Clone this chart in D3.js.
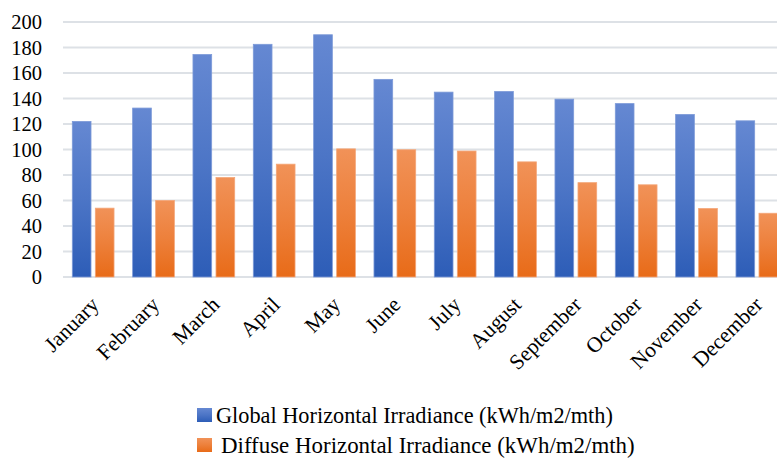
<!DOCTYPE html>
<html>
<head>
<meta charset="utf-8">
<script src="https://cdn.jsdelivr.net/npm/d3@7"></script>
<style>
html,body{margin:0;padding:0;background:#fff;}
svg{display:block;}
</style>
</head>
<body>
<svg id="chart" width="777" height="464"></svg>
<script>
const months = ["January","February","March","April","May","June","July","August","September","October","November","December"];
const seriesNames = ["Global Horizontal Irradiance (kWh/m2/mth)", "Diffuse Horizontal Irradiance (kWh/m2/mth)"];
const globalValues = [122, 132.5, 174.5, 182.5, 190, 155, 145, 145.5, 139.5, 136, 127.5, 122.5];
const diffuseValues = [54, 60, 78, 88.5, 100.5, 99.8, 98.8, 90.3, 74, 72.3, 53.7, 50];
const yTicks = [0,20,40,60,80,100,120,140,160,180,200];

const fontFam = "'Liberation Serif','DejaVu Serif',serif";
const svg = d3.select("#chart");
const plotLeft = 63, plotRight = 787, plotTop = 22, plotBottom = 277;

const x0 = d3.scaleBand().domain(months).range([plotLeft, plotRight]).paddingInner(0).paddingOuter(0);
const x1 = d3.scaleBand().domain([0,1]).range([0, x0.bandwidth()]).paddingInner(0.187).paddingOuter(0.404);
const y = d3.scaleLinear().domain([0,200]).range([plotBottom, plotTop]);

const defs = svg.append("defs");
const grads = [
  {id:"gBlue", top:"#6588d2", bottom:"#2d5db7"},
  {id:"gOrange", top:"#f19258", bottom:"#e86b18"}
];
grads.forEach(g => {
  const lg = defs.append("linearGradient").attr("id", g.id).attr("x1",0).attr("y1",0).attr("x2",0).attr("y2",1);
  lg.append("stop").attr("offset","0%").attr("stop-color", g.top);
  lg.append("stop").attr("offset","50%").attr("stop-color", d3.interpolateRgb(g.top,g.bottom)(0.45));
  lg.append("stop").attr("offset","100%").attr("stop-color", g.bottom);
});
const strokes = ["#7d9ad8", "#f4a678"];

// gridlines
svg.append("g").selectAll("line").data(yTicks).join("line")
  .attr("x1", plotLeft).attr("x2", plotRight)
  .attr("y1", d => y(d)).attr("y2", d => y(d))
  .attr("stroke", "#dde1e6").attr("stroke-width", 2);

// y axis labels
const yAxis = d3.axisLeft(y).tickValues(yTicks).tickSize(0).tickPadding(0);
const yg = svg.append("g").attr("transform", `translate(42,0)`).call(yAxis);
yg.select(".domain").remove();
yg.selectAll("text").attr("font-family", fontFam).attr("font-size", 20.5).attr("fill", "#000").attr("dy", "0.34em");

// bars
const data = months.map((m,i) => ({m, vals:[globalValues[i], diffuseValues[i]]}));
const groups = svg.append("g").selectAll("g").data(data).join("g")
  .attr("transform", d => `translate(${x0(d.m)},0)`);
groups.selectAll("rect").data(d => d.vals.map((v,k)=>({v,k}))).join("rect")
  .attr("x", d => x1(d.k))
  .attr("width", x1.bandwidth())
  .attr("y", d => y(d.v))
  .attr("height", d => y(0) - y(d.v))
  .attr("fill", d => `url(#${grads[d.k].id})`)
  .attr("stroke", d => strokes[d.k]).attr("stroke-width", 0.8);

// x axis labels
const xAxis = d3.axisBottom(x0).tickSize(0).tickPadding(0);
const xg = svg.append("g").attr("transform", `translate(0,${plotBottom})`).call(xAxis);
xg.select(".domain").remove();
xg.selectAll("text")
  .attr("font-family", fontFam).attr("font-size", 21.5).attr("fill","#000")
  .attr("text-anchor","end")
  .attr("dy", null)
  .attr("transform", "translate(7,29) rotate(-45)");

// legend
const legend = svg.append("g");
const legRows = [{y:423, sq:197, tx:216, w:397}, {y:453, sq:197, tx:221, w:414}];
seriesNames.forEach((name,i) => {
  const r = legRows[i];
  legend.append("rect").attr("x", r.sq).attr("y", r.y-15).attr("width", 15).attr("height", 14)
    .attr("fill", `url(#${grads[i].id})`);
  const t = legend.append("text").attr("x", r.tx).attr("y", r.y)
    .attr("font-family", fontFam).attr("font-size", 20).attr("fill","#000")
    .text(name);
  const w = t.node().getComputedTextLength();
  t.attr("font-size", 20 * r.w / w);
});
</script>
</body>
</html>
